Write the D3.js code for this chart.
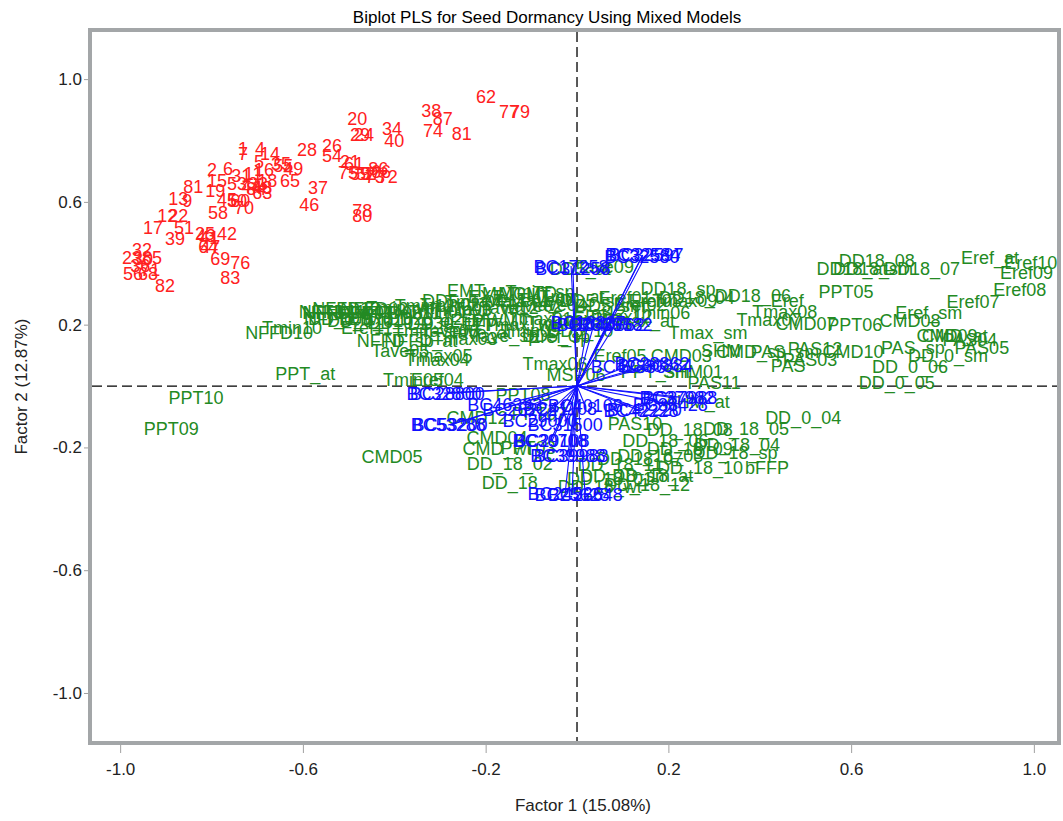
<!DOCTYPE html>
<html><head><meta charset="utf-8">
<script src="https://cdn.jsdelivr.net/npm/d3@7"></script>
<style>
html,body{margin:0;padding:0;background:#fff;}
svg text{font-family:"Liberation Sans",Arial,"DejaVu Sans",sans-serif;}
</style></head>
<body>
<svg id="chart" width="1063" height="821"></svg>
<script>
// ---- Data (factor scores / loadings) ----
const chartTitle = "Biplot PLS for Seed Dormancy Using Mixed Models";
const xAxisTitle = "Factor 1 (15.08%)";
const yAxisTitle = "Factor 2 (12.87%)";
const xTicks = [-1.0, -0.6, -0.2, 0.2, 0.6, 1.0];
const yTicks = [-1.0, -0.6, -0.2, 0.2, 0.6, 1.0];

// observations (red)
const obsLabels = ["62","77","79","38","87","74","81","34","40","20","29","24","28","26","54","1","7","4","14","5","35","55","49","2","6","31","11","16","81","15","19","53","44","84","33","48","63","18","65","37","46","78","80","13","9","45","50","60","70","58","12","22","17","51","39","25","41","42","64","69","76","83","32","23","30","85","36","56","68","71","82","21","61","75","59","52","57","86","66","72","73","43","47"];
const obsF1 = [-0.199,-0.149,-0.125,-0.319,-0.294,-0.315,-0.252,-0.405,-0.400,-0.481,-0.475,-0.466,-0.591,-0.536,-0.536,-0.731,-0.731,-0.694,-0.672,-0.696,-0.648,-0.643,-0.621,-0.799,-0.764,-0.735,-0.709,-0.685,-0.840,-0.788,-0.792,-0.744,-0.713,-0.702,-0.698,-0.689,-0.689,-0.678,-0.628,-0.567,-0.586,-0.470,-0.470,-0.873,-0.853,-0.766,-0.744,-0.737,-0.729,-0.786,-0.897,-0.873,-0.928,-0.860,-0.880,-0.814,-0.805,-0.766,-0.807,-0.781,-0.737,-0.759,-0.952,-0.974,-0.950,-0.930,-0.956,-0.972,-0.939,-0.934,-0.902,-0.497,-0.488,-0.501,-0.475,-0.462,-0.451,-0.435,-0.429,-0.414,-0.442,-0.812,-0.803];
const obsF2 = [0.944,0.896,0.896,0.899,0.873,0.831,0.824,0.840,0.799,0.870,0.818,0.821,0.772,0.782,0.752,0.775,0.756,0.775,0.756,0.733,0.726,0.717,0.710,0.707,0.710,0.687,0.694,0.704,0.651,0.671,0.638,0.661,0.651,0.642,0.661,0.648,0.629,0.671,0.668,0.648,0.593,0.573,0.554,0.612,0.603,0.609,0.606,0.603,0.583,0.564,0.554,0.554,0.518,0.518,0.482,0.498,0.485,0.498,0.453,0.417,0.401,0.355,0.446,0.420,0.417,0.420,0.394,0.368,0.368,0.381,0.329,0.733,0.726,0.697,0.694,0.691,0.694,0.710,0.700,0.681,0.684,0.489,0.456];

// predictors (green)
const predLabels = ["DD18_08","DD18_at","DD18_sm","DD18_07","Eref_at","Eref10","Eref09","Eref08","Eref07","PPT05","Eref_sm","PPT06","CMD08","CMD07","CMD09","CMD_at","PAS_sp","PAS04","PAS05","DD_0_sm","DD_0_06","DD_0_05","CMD10","PAS12","PAS03","PAS","Eref","DD18_06","Tmax08","Tmax07","DD18_sp","DD18_04","Tmax09","Tmax_sm","SHM","CMD_sp","PAS_sm","CMD03","PPT_sm","SHM01","PAS11","Eref05","AHM_at","DD_0_04","DD_18_05","PAS10","DD_18_sp","DD_18_04","DD_18_10","bFFP","DD_18_at","DD_18_12","DD_18_06","DD_18_09","DD_18_03","DD_18_11","DD_18_01","DD_18_sm","DD_18_wt","DD_18_07","DD_18_08","CMD05","CMD_wt","CMD04","CMD12","PPT07","PPT08","PPT03","DD_18_02","DD_18","PPT10","PPT09","PPT_at","Tmin10","NFFD10","Tave05","Tmax04","Tmax05","Tmin05","Eref04","NFFD_at","Tmax03","Eref_sp","Tmax06","MSP06","DD5_at","Tave09","Eref11",
  "NFFD04","NFFD09","NFFD_wt","NFFD11","NFFD12","NFFD01","NFFD02","NFFD03","Tmin_wt","Tmin11","Tmin12","Tmin01","Tmin02","Tmin03","Tmin04","Tave_wt","Tave11","Tave12","Tave01","Tave02","Tave03","Tave04","EMT","EXT","MAT","TD","MCMT","Tmin_sp","Tmin_at","DD5","DD5_sp","DD5_sm","Eref01","Eref02","Eref03","Eref12","DD_0_wt","DD_0_01","DD_0_02","DD_0_03","DD_0_12","DD_0_11","eFFP","FFP","MWMT","Tmax_wt","Tmax01","Tmax02","Tmax10","Tmax11","Tmax12","Tmax_at","Tmin06","Tave_at","Tave_sp","Tave06","Tmin09","Tmin_sm","NFFD_sp","DD5_04","DD5_10"];
const predF1 = [0.656,0.602,0.648,0.755,0.904,0.993,0.984,0.969,0.867,0.589,0.770,0.608,0.729,0.501,0.810,0.827,0.735,0.860,0.886,0.812,0.729,0.700,0.604,0.521,0.510,0.462,0.460,0.385,0.455,0.420,0.221,0.262,0.236,0.287,0.315,0.381,0.455,0.228,0.171,0.254,0.300,0.094,0.263,0.495,0.370,0.127,0.346,0.350,0.269,0.416,0.166,0.153,0.193,0.247,0.182,0.094,0.072,0.105,0.050,0.138,0.247,-0.405,-0.175,-0.175,-0.219,-0.083,-0.118,-0.107,-0.147,-0.147,-0.834,-0.888,-0.595,-0.624,-0.652,-0.387,-0.306,-0.300,-0.359,-0.306,-0.342,-0.245,-0.039,-0.048,-0.002,0.007,0.061,-0.460,
  -0.527,-0.523,-0.517,-0.536,-0.505,-0.475,-0.444,-0.414,-0.387,-0.361,-0.333,-0.304,-0.278,-0.252,-0.223,-0.197,-0.173,-0.147,-0.120,-0.094,-0.068,-0.042,-0.243,-0.201,-0.168,-0.070,-0.114,-0.081,-0.011,-0.300,0.033,0.072,0.105,0.138,0.171,0.050,-0.508,-0.464,-0.420,-0.376,-0.333,-0.289,-0.252,-0.212,-0.168,-0.125,-0.081,-0.037,0.007,0.050,0.094,0.138,0.182,-0.212,-0.158,-0.278,-0.103,-0.322,-0.398,-0.048,0.007];
const predF2 = [0.410,0.384,0.384,0.384,0.420,0.401,0.371,0.316,0.274,0.309,0.241,0.202,0.212,0.205,0.166,0.166,0.124,0.150,0.124,0.101,0.065,0.013,0.114,0.121,0.085,0.068,0.280,0.296,0.244,0.218,0.319,0.287,0.280,0.173,0.117,0.111,0.111,0.101,0.046,0.046,0.010,0.101,-0.049,-0.101,-0.137,-0.121,-0.215,-0.192,-0.264,-0.264,-0.290,-0.322,-0.176,-0.202,-0.225,-0.257,-0.300,-0.290,-0.329,-0.235,-0.143,-0.231,-0.202,-0.169,-0.104,-0.088,-0.029,-0.199,-0.251,-0.313,-0.036,-0.140,0.042,0.192,0.173,0.117,0.085,0.098,0.020,0.020,0.147,0.156,0.160,0.072,0.036,0.384,0.391,0.192,
  0.241,0.221,0.238,0.244,0.251,0.238,0.254,0.241,0.257,0.241,0.261,0.244,0.267,0.248,0.274,0.251,0.277,0.257,0.280,0.261,0.283,0.264,0.312,0.293,0.303,0.306,0.300,0.309,0.293,0.280,0.280,0.261,0.287,0.267,0.280,0.241,0.221,0.215,0.221,0.208,0.221,0.205,0.215,0.199,0.215,0.199,0.221,0.208,0.221,0.208,0.228,0.215,0.241,0.173,0.166,0.182,0.182,0.182,0.147,0.166,0.182];

// responses (blue, drawn as vectors)
const respLabels = ["BC32584","BC32597","BC32580","BC17258","BC31258","BC26567","BC40662","BC39582","BC18837","BC42886","BC28862","BC30884","BC37982","BC37988","BC33428","BC42228","BC42220","BC32800","BC28800","BC53288","BC53200","BC46333","BC26222","BC41108","BC40108","BC29000","BC31500","BC30708","BC29108","BC39988","BC39983","BC25628","BC26548","BC24526"];
const respF1 = [0.144,0.151,0.142,-0.013,-0.009,0.037,0.066,0.083,0.024,0.112,0.164,0.171,0.219,0.225,0.204,0.140,0.147,-0.291,-0.284,-0.282,-0.278,-0.158,-0.125,-0.037,0.018,-0.081,-0.026,-0.059,-0.055,-0.020,-0.013,-0.011,0.018,-0.026];
const respF2 = [0.427,0.427,0.423,0.391,0.384,0.202,0.202,0.199,0.208,0.065,0.072,0.068,-0.039,-0.036,-0.059,-0.081,-0.078,-0.023,-0.023,-0.127,-0.127,-0.059,-0.078,-0.072,-0.065,-0.111,-0.127,-0.179,-0.179,-0.225,-0.228,-0.352,-0.355,-0.349];

// ---- Drawing ----
const svg = d3.select("#chart");
const W = 1063, H = 821;
const L = 90, R = 1059, T = 30, B = 743;
const x = d3.scaleLinear().domain([-1.066, 1.055]).range([L, R]);
const y = d3.scaleLinear().domain([-1.163, 1.16]).range([B, T]);
const fmt = d => d.toFixed(1);

svg.append("rect").attr("width", W).attr("height", H).attr("fill", "#fff");

// title
svg.append("text").attr("x", 547).attr("y", 23).attr("text-anchor", "middle")
  .attr("font-size", 17).attr("fill", "#000").text(chartTitle);

// axes
const xAxis = d3.axisBottom(x).tickValues(xTicks).tickFormat(fmt).tickSize(8).tickPadding(10);
const gx = svg.append("g").attr("transform", `translate(0,${B + 2})`).call(xAxis);
gx.select(".domain").remove();
gx.selectAll(".tick line").attr("stroke", "#a0a0a0");
gx.selectAll(".tick text").attr("font-size", 17).attr("fill", "#222")
  .attr("font-family", '"Liberation Sans",Arial,sans-serif');

const yAxis = d3.axisLeft(y).tickValues(yTicks).tickFormat(fmt).tickSize(4).tickPadding(2);
const gy = svg.append("g").attr("transform", `translate(${L - 2},0)`).call(yAxis);
gy.select(".domain").remove();
gy.selectAll(".tick line").attr("stroke", "#a0a0a0");
gy.selectAll(".tick text").attr("font-size", 17).attr("fill", "#222")
  .attr("font-family", '"Liberation Sans",Arial,sans-serif');

svg.append("text").attr("x", 583).attr("y", 811).attr("text-anchor", "middle")
  .attr("font-size", 17).attr("fill", "#222").text(xAxisTitle);
svg.append("text").attr("transform", `translate(27,${(T + B) / 2}) rotate(-90)`)
  .attr("text-anchor", "middle").attr("font-size", 17).attr("fill", "#222").text(yAxisTitle);

// frame
svg.append("rect").attr("x", L).attr("y", T).attr("width", R - L).attr("height", B - T)
  .attr("fill", "none").attr("stroke", "#a3a6a8").attr("stroke-width", 4);

// reference lines
svg.append("line").attr("x1", x(0)).attr("x2", x(0)).attr("y1", T + 2).attr("y2", B - 2)
  .attr("stroke", "#000").attr("stroke-width", 1.3).attr("stroke-dasharray", "10,5");
svg.append("line").attr("x1", L + 2).attr("x2", R - 2).attr("y1", y(0)).attr("y2", y(0))
  .attr("stroke", "#000").attr("stroke-width", 1.3).attr("stroke-dasharray", "10,5");

// observations
svg.append("g").selectAll("text").data(obsLabels).join("text")
  .attr("x", (d, i) => x(obsF1[i])).attr("y", (d, i) => y(obsF2[i]))
  .attr("text-anchor", "middle").attr("dy", "0.36em")
  .attr("font-size", 18).attr("fill", "#ff2020").text(d => d);

// predictors
svg.append("g").selectAll("text").data(predLabels).join("text")
  .attr("x", (d, i) => x(predF1[i])).attr("y", (d, i) => y(predF2[i]))
  .attr("text-anchor", "middle").attr("dy", "0.36em")
  .attr("font-size", 18).attr("fill", "#238a23").text(d => d);

// response vectors
svg.append("g").selectAll("line").data(respLabels).join("line")
  .attr("x1", x(0)).attr("y1", y(0))
  .attr("x2", (d, i) => x(respF1[i])).attr("y2", (d, i) => y(respF2[i]))
  .attr("stroke", "#1010ff").attr("stroke-width", 1.1);
svg.append("g").selectAll("text").data(respLabels).join("text")
  .attr("x", (d, i) => x(respF1[i])).attr("y", (d, i) => y(respF2[i]))
  .attr("text-anchor", "middle").attr("dy", "0.36em")
  .attr("font-size", 18).attr("fill", "#1010ff").text(d => d);
</script>
</body></html>
